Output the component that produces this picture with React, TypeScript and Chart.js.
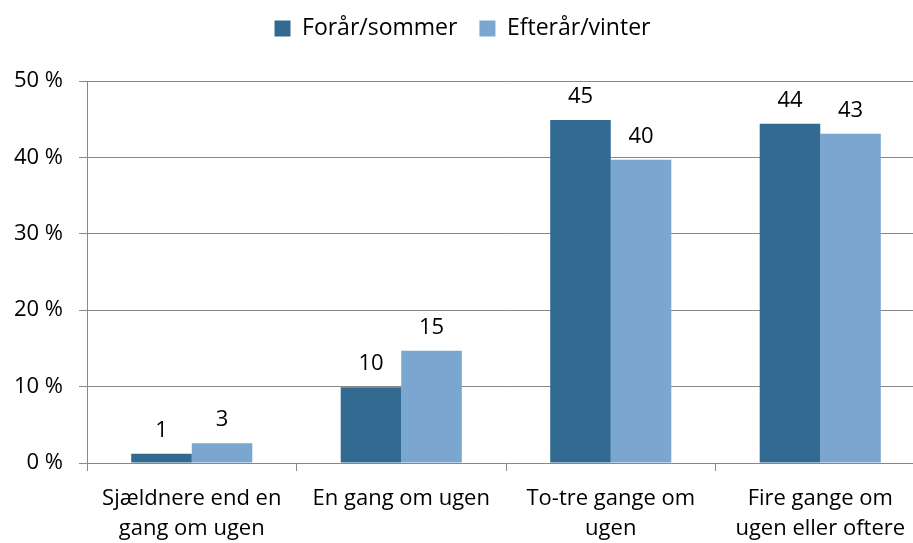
import React, { useEffect, useRef } from "react";
import { Chart, registerables } from "chart.js";
Chart.register(...registerables);

const categories: string[][] = [
  ["Sjældnere end en", "gang om ugen"],
  ["En gang om ugen"],
  ["To-tre gange om", "ugen"],
  ["Fire gange om", "ugen eller oftere"],
];
const seriesNames = ["Forår/sommer", "Efterår/vinter"];
const springValues = [1.2, 9.9, 44.9, 44.4];
const autumnValues = [2.6, 14.7, 39.7, 43.1];
const springLabels = ["1", "10", "45", "44"];
const autumnLabels = ["3", "15", "40", "43"];
const colors = ["#336A91", "#7AA6CF"];
const FONT = "'Open Sans', 'DejaVu Sans', sans-serif";

const labelPlugin = {
  id: "barLabels",
  afterDatasetsDraw(chart: any) {
    const ctx = chart.ctx;
    const labels = [springLabels, autumnLabels];
    ctx.save();
    ctx.font = `22px ${FONT}`;
    ctx.fillStyle = "#000";
    ctx.textAlign = "center";
    ctx.textBaseline = "alphabetic";
    chart.data.datasets.forEach((_: any, di: number) => {
      const meta = chart.getDatasetMeta(di);
      meta.data.forEach((bar: any, i: number) => {
        ctx.fillText(labels[di][i], bar.x, bar.y - 17);
      });
    });
    ctx.restore();
  },
};

export default function App() {
  const ref = useRef<HTMLCanvasElement>(null);
  useEffect(() => {
    document.body.style.margin = "0";
    const chart = new Chart(ref.current!, {
      type: "bar",
      data: {
        labels: categories,
        datasets: [
          { label: seriesNames[0], data: springValues, backgroundColor: colors[0] },
          { label: seriesNames[1], data: autumnValues, backgroundColor: colors[1] },
        ],
      },
      options: {
        animation: false,
        responsive: false,
        layout: { padding: { left: 0, right: 0, top: 3, bottom: 0 } },
        plugins: {
          legend: {
            position: "top",
            weight: 3000,
            labels: {
              font: { family: FONT, size: 23 },
              color: "#000",
              boxWidth: 16,
              boxHeight: 16,
              padding: 22,
            },
          } as any,
          title: {
            display: true,
            text: " ",
            position: "top",
            font: { size: 31, lineHeight: 1 },
            padding: 0,
          },
          tooltip: { enabled: false },
        },
        datasets: { bar: { categoryPercentage: 0.578, barPercentage: 1 } } as any,
        scales: {
          x: {
            afterFit: (s: any) => { s.height = 80; },
            grid: { offset: true, drawOnChartArea: false, color: "#888", tickLength: 8 },
            border: { color: "#888", width: 1 },
            ticks: { font: { family: FONT, size: 22, lineHeight: 1.36 }, color: "#000", maxRotation: 0, autoSkip: false, padding: 13 },
          },
          y: {
            afterFit: (s: any) => { s.width = 87; },
            min: 0,
            max: 50,
            grid: { color: "#888", tickLength: 8 },
            border: { color: "#888" },
            ticks: {
              stepSize: 10,
              font: { family: FONT, size: 22 },
              color: "#000",
              padding: 16,
              callback: (v: any) => `${v} %`,
            },
          },
        },
      },
      plugins: [labelPlugin],
    });
    return () => chart.destroy();
  }, []);
  return (
    <div style={{ width: 913, height: 543, overflow: "hidden" }}>
      <canvas ref={ref} width={925} height={551} style={{ display: "block", marginTop: -8 }} />
    </div>
  );
}
